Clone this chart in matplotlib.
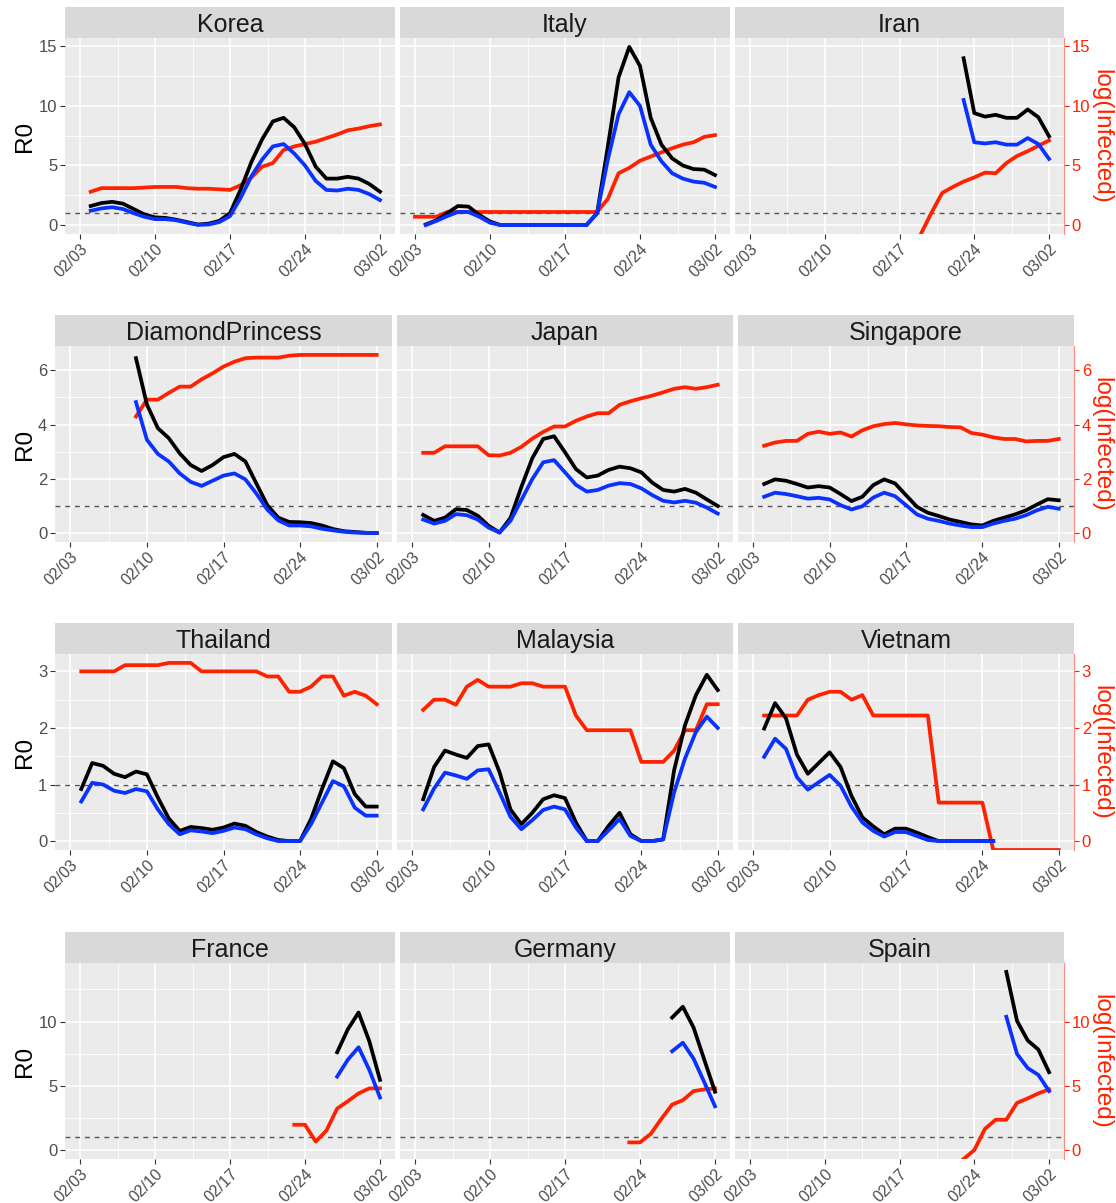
import numpy as np
import pandas as pd
import matplotlib
matplotlib.use("Agg")
import matplotlib.pyplot as plt
import matplotlib.dates as mdates
from matplotlib.ticker import MultipleLocator, FixedLocator

plt.rcParams['font.family'] = ['Liberation Sans', 'DejaVu Sans']

NEG = -np.inf  # log(0), drawn on the lower edge of the panel

# black = R0 upper, blue = R0 lower, red = log(Infected); daily values
korea_r0_start = "2020-02-04"
korea_r0_upper = [1.6, 1.85, 1.95, 1.8, 1.35, 0.9, 0.65, 0.6, 0.45, 0.25, 0.05, 0.12, 0.35, 1.0,
                  3.0, 5.3, 7.2, 8.7, 9.0, 8.2, 6.8, 4.9, 3.9, 3.9, 4.05, 3.9, 3.45, 2.8]
korea_r0_lower = [1.2, 1.4, 1.5, 1.35, 1.0, 0.7, 0.5, 0.5, 0.4, 0.2, 0.02, 0.05, 0.25, 0.75,
                  2.3, 4.1, 5.5, 6.6, 6.8, 6.0, 5.0, 3.7, 2.95, 2.9, 3.05, 2.95, 2.6, 2.1]
korea_log_start = "2020-02-04"
korea_log_inf = [2.8, 3.1, 3.1, 3.1, 3.1, 3.15, 3.2, 3.2, 3.2, 3.1, 3.05, 3.05, 3.0, 2.95,
                 3.35, 4.0, 4.9, 5.2, 6.3, 6.6, 6.8, 7.0, 7.3, 7.6, 7.95, 8.1, 8.3, 8.45]

italy_r0_start = "2020-02-04"
italy_r0_upper = [0.05, 0.4, 1.0, 1.6, 1.55, 0.85, 0.3, 0, 0, 0, 0, 0, 0, 0, 0, 0,
                  1.0, 6.6, 12.4, 14.95, 13.35, 9.0, 6.75, 5.6, 5.0, 4.7, 4.65, 4.2]
italy_r0_lower = [0.0, 0.35, 0.75, 1.1, 1.1, 0.7, 0.2, 0, 0, 0, 0, 0, 0, 0, 0, 0,
                  1.0, 5.5, 9.3, 11.15, 10.0, 6.75, 5.35, 4.35, 3.9, 3.65, 3.55, 3.2]
italy_log_start = "2020-02-03"
italy_log_inf = [0.7, 0.7, 0.7, 1.1, 1.1, 1.1, 1.1, 1.1, 1.1, 1.1, 1.1, 1.1, 1.1, 1.1, 1.1,
                 1.1, 1.1, 1.1, 2.2, 4.35, 4.8, 5.4, 5.75, 6.1, 6.45, 6.75, 6.95, 7.4, 7.55]

iran_r0_start = "2020-02-23"
iran_r0_upper = [14.0, 9.4, 9.1, 9.25, 9.0, 9.0, 9.7, 9.05, 7.45]
iran_r0_lower = [10.5, 6.95, 6.85, 6.95, 6.75, 6.75, 7.3, 6.8, 5.55]
iran_log_start = "2020-02-19"
iran_log_inf = [NEG, 1.05, 2.7, 3.2, 3.65, 4.0, 4.4, 4.35, 5.2, 5.8, 6.2, 6.65, 7.1]

dp_r0_start = "2020-02-09"
dp_r0_upper = [6.45, 4.74, 3.87, 3.5, 2.94, 2.51, 2.29, 2.51, 2.8, 2.92, 2.64, 1.83, 1.03,
               0.57, 0.41, 0.4, 0.37, 0.28, 0.15, 0.07, 0.04, 0.01, 0.0]
dp_r0_lower = [4.83, 3.44, 2.92, 2.64, 2.2, 1.89, 1.74, 1.93, 2.12, 2.2, 1.98, 1.46, 0.87,
               0.47, 0.28, 0.28, 0.25, 0.16, 0.1, 0.05, 0.02, 0.01, 0.0]
dp_log_start = "2020-02-09"
dp_log_inf = [4.3, 4.92, 4.92, 5.17, 5.4, 5.4, 5.67, 5.89, 6.14, 6.32, 6.45, 6.47, 6.47,
              6.47, 6.54, 6.57, 6.57, 6.57, 6.57, 6.57, 6.57, 6.57, 6.57]

japan_r0_start = "2020-02-04"
japan_r0_upper = [0.67, 0.45, 0.57, 0.88, 0.85, 0.64, 0.27, 0.02, 0.56, 1.7, 2.76, 3.47, 3.57,
                  2.98, 2.36, 2.05, 2.12, 2.33, 2.45, 2.39, 2.24, 1.86, 1.59, 1.53, 1.63, 1.49,
                  1.24, 1.0]
japan_r0_lower = [0.5, 0.35, 0.45, 0.7, 0.66, 0.5, 0.2, 0.02, 0.45, 1.22, 1.99, 2.61, 2.69,
                  2.24, 1.78, 1.53, 1.59, 1.75, 1.84, 1.81, 1.65, 1.4, 1.19, 1.13, 1.19, 1.12,
                  0.94, 0.72]
japan_log_start = "2020-02-04"
japan_log_inf = [2.96, 2.96, 3.2, 3.2, 3.2, 3.2, 2.87, 2.86, 2.96, 3.18, 3.48, 3.73, 3.93,
                 3.93, 4.14, 4.3, 4.42, 4.42, 4.73, 4.86, 4.97, 5.07, 5.19, 5.32, 5.38, 5.32,
                 5.38, 5.47]

singapore_r0_start = "2020-02-04"
singapore_r0_upper = [1.81, 1.98, 1.93, 1.81, 1.68, 1.73, 1.68, 1.44, 1.18, 1.34, 1.77, 1.98,
                      1.83, 1.4, 0.97, 0.75, 0.63, 0.5, 0.41, 0.32, 0.28, 0.45, 0.57, 0.69,
                      0.84, 1.05, 1.25, 1.21]
singapore_r0_lower = [1.34, 1.49, 1.44, 1.36, 1.27, 1.3, 1.24, 1.03, 0.87, 0.99, 1.31, 1.49,
                      1.36, 1.03, 0.69, 0.53, 0.45, 0.35, 0.28, 0.22, 0.22, 0.35, 0.45, 0.53,
                      0.66, 0.84, 0.97, 0.9]
singapore_log_start = "2020-02-04"
singapore_log_inf = [3.22, 3.34, 3.4, 3.4, 3.66, 3.74, 3.66, 3.71, 3.56, 3.79, 3.94, 4.02,
                     4.06, 4.01, 3.97, 3.95, 3.94, 3.91, 3.9, 3.69, 3.63, 3.53, 3.47, 3.47,
                     3.38, 3.4, 3.4, 3.47]

thailand_r0_start = "2020-02-04"
thailand_r0_upper = [0.92, 1.38, 1.33, 1.19, 1.13, 1.23, 1.18, 0.77, 0.4, 0.18, 0.25, 0.23,
                     0.2, 0.24, 0.31, 0.27, 0.16, 0.08, 0.02, 0.0, 0.0, 0.39, 0.92, 1.41,
                     1.29, 0.83, 0.61, 0.61]
thailand_r0_lower = [0.7, 1.03, 1.0, 0.89, 0.85, 0.92, 0.88, 0.56, 0.3, 0.12, 0.19, 0.17,
                     0.14, 0.18, 0.24, 0.21, 0.12, 0.05, 0.0, 0.0, 0.0, 0.3, 0.68, 1.06,
                     0.97, 0.59, 0.45, 0.45]
thailand_log_start = "2020-02-04"
thailand_log_inf = [3.0, 3.0, 3.0, 3.0, 3.11, 3.11, 3.11, 3.11, 3.15, 3.15, 3.15, 3.0, 3.0,
                    3.0, 3.0, 3.0, 3.0, 2.91, 2.91, 2.64, 2.64, 2.73, 2.91, 2.91, 2.57, 2.64,
                    2.57, 2.42]

malaysia_r0_start = "2020-02-04"
malaysia_r0_upper = [0.74, 1.31, 1.6, 1.53, 1.47, 1.68, 1.71, 1.22, 0.56, 0.3, 0.5, 0.74,
                     0.81, 0.76, 0.33, 0.0, 0.0, 0.27, 0.5, 0.12, 0.0, 0.0, 0.03, 1.25, 2.05,
                     2.58, 2.94, 2.67]
malaysia_r0_lower = [0.56, 0.93, 1.21, 1.16, 1.1, 1.25, 1.27, 0.86, 0.43, 0.21, 0.37, 0.55,
                     0.61, 0.56, 0.24, 0.0, 0.0, 0.19, 0.39, 0.09, 0.0, 0.0, 0.03, 0.86, 1.46,
                     1.93, 2.2, 2.0]
malaysia_log_start = "2020-02-04"
malaysia_log_inf = [2.32, 2.5, 2.5, 2.41, 2.73, 2.85, 2.73, 2.73, 2.73, 2.79, 2.79, 2.73,
                    2.73, 2.73, 2.22, 1.96, 1.96, 1.96, 1.96, 1.96, 1.4, 1.4, 1.4, 1.6, 1.96,
                    1.96, 2.42, 2.42]

vietnam_r0_start = "2020-02-04"
vietnam_r0_upper = [1.99, 2.44, 2.17, 1.53, 1.19, 1.38, 1.57, 1.31, 0.8, 0.42, 0.26, 0.12,
                    0.22, 0.22, 0.15, 0.07, 0.0, 0.0, 0.0, 0.0, 0.0, 0.0]
vietnam_r0_lower = [1.49, 1.81, 1.63, 1.13, 0.91, 1.04, 1.17, 0.98, 0.61, 0.33, 0.18, 0.08,
                    0.16, 0.16, 0.09, 0.02, 0.0, 0.0, 0.0, 0.0, 0.0, 0.0]
vietnam_log_start = "2020-02-04"
vietnam_log_inf = [2.22, 2.22, 2.22, 2.22, 2.5, 2.58, 2.64, 2.64, 2.5, 2.58, 2.22, 2.22,
                   2.22, 2.22, 2.22, 2.22, 0.68, 0.68, 0.68, 0.68, 0.68,
                   NEG, NEG, NEG, NEG, NEG, NEG, NEG]

france_r0_start = "2020-02-27"
france_r0_upper = [7.61, 9.4, 10.7, 8.47, 5.46]
france_r0_lower = [5.72, 7.03, 8.0, 6.24, 4.09]
france_log_start = "2020-02-23"
france_log_inf = [1.97, 1.97, 0.66, 1.52, 3.23, 3.8, 4.41, 4.8, 4.8]

germany_r0_start = "2020-02-27"
germany_r0_upper = [10.31, 11.15, 9.53, 7.03, 4.54]
germany_r0_lower = [7.69, 8.35, 7.11, 5.28, 3.41]
germany_log_start = "2020-02-23"
germany_log_inf = [0.6, 0.6, 1.26, 2.44, 3.54, 3.88, 4.59, 4.72, 4.8]

spain_r0_start = "2020-02-27"
spain_r0_upper = [13.86, 10.05, 8.53, 7.82, 6.06]
spain_r0_lower = [10.37, 7.48, 6.38, 5.85, 4.59]
spain_log_start = "2020-02-23"
spain_log_inf = [NEG, 0.0, 1.65, 2.36, 2.36, 3.67, 4.02, 4.41, 4.72]

rows = [
    [("Korea", korea_r0_start, korea_r0_upper, korea_r0_lower, korea_log_start, korea_log_inf),
     ("Italy", italy_r0_start, italy_r0_upper, italy_r0_lower, italy_log_start, italy_log_inf),
     ("Iran", iran_r0_start, iran_r0_upper, iran_r0_lower, iran_log_start, iran_log_inf)],
    [("DiamondPrincess", dp_r0_start, dp_r0_upper, dp_r0_lower, dp_log_start, dp_log_inf),
     ("Japan", japan_r0_start, japan_r0_upper, japan_r0_lower, japan_log_start, japan_log_inf),
     ("Singapore", singapore_r0_start, singapore_r0_upper, singapore_r0_lower,
      singapore_log_start, singapore_log_inf)],
    [("Thailand", thailand_r0_start, thailand_r0_upper, thailand_r0_lower,
      thailand_log_start, thailand_log_inf),
     ("Malaysia", malaysia_r0_start, malaysia_r0_upper, malaysia_r0_lower,
      malaysia_log_start, malaysia_log_inf),
     ("Vietnam", vietnam_r0_start, vietnam_r0_upper, vietnam_r0_lower,
      vietnam_log_start, vietnam_log_inf)],
    [("France", france_r0_start, france_r0_upper, france_r0_lower, france_log_start, france_log_inf),
     ("Germany", germany_r0_start, germany_r0_upper, germany_r0_lower,
      germany_log_start, germany_log_inf),
     ("Spain", spain_r0_start, spain_r0_upper, spain_r0_lower, spain_log_start, spain_log_inf)],
]

BLACK = "black"
BLUE = "#0A32FF"
RED = "#FF2200"
GREY_TXT = "#4D4D4D"
LW = 2.7

# figure layout in pixels
W, H = 1116, 1203
strip_tops = [7, 315, 623, 932]
strip_h, panel_h = 31, 196
cols_wide = [(65, 395), (400, 730), (735, 1064)]
cols_narrow = [(55, 392), (397, 733), (738, 1074)]
row_cols = [cols_wide, cols_narrow, cols_narrow, cols_wide]
row_steps = [5, 2, 1, 5]

fig = plt.figure(figsize=(W / 100, H / 100), dpi=100)
fig.patch.set_facecolor("white")


def px_axes(x0, y0, x1, y1):
    return fig.add_axes([x0 / W, 1 - y1 / H, (x1 - x0) / W, (y1 - y0) / H])


def day_nums(start, n):
    return mdates.date2num(pd.date_range(start, periods=n, freq="D").to_pydatetime())


first = mdates.date2num(pd.Timestamp("2020-02-03").to_pydatetime())
last = mdates.date2num(pd.Timestamp("2020-03-02").to_pydatetime())
xpad = 0.05 * (last - first)
major_x = [first + 7 * k for k in range(5)]
minor_x = [first + 3.5 + 7 * k for k in range(4)]

for r, row in enumerate(rows):
    vals = np.concatenate([np.asarray(p[2] + p[3] + p[5], dtype=float) for p in row])
    vals = vals[np.isfinite(vals)]
    lo, hi = vals.min(), vals.max()
    ypad = 0.05 * (hi - lo)
    ylim = (lo - ypad, hi + ypad)
    top = strip_tops[r]
    for c, (name, r0_start, upper, lower, log_start, log_inf) in enumerate(row):
        x0, x1 = row_cols[r][c]
        # facet strip
        sax = px_axes(x0, top, x1, top + strip_h)
        sax.set_facecolor("#D9D9D9")
        sax.set_xticks([])
        sax.set_yticks([])
        for s in sax.spines.values():
            s.set_visible(False)
        sax.text(0.5, 0.2, name, ha="center", va="baseline", fontsize=18,
                 color="#1A1A1A", transform=sax.transAxes)

        ax = px_axes(x0, top + strip_h, x1, top + strip_h + panel_h)
        ax.set_facecolor("#EBEBEB")
        for s in ax.spines.values():
            s.set_visible(False)
        ax.set_xlim(first - xpad, last + xpad)
        ax.set_ylim(*ylim)
        ax.xaxis.set_major_locator(FixedLocator(major_x))
        ax.xaxis.set_minor_locator(FixedLocator(minor_x))
        ax.xaxis.set_major_formatter(mdates.DateFormatter("%m/%d"))
        ax.yaxis.set_major_locator(MultipleLocator(row_steps[r]))
        ax.yaxis.set_minor_locator(MultipleLocator(row_steps[r] / 2))
        ax.grid(which="major", color="white", lw=1.2)
        ax.grid(which="minor", color="white", lw=0.6)
        ax.set_axisbelow(True)
        ax.tick_params(which="minor", length=0)
        ax.tick_params(axis="x", which="major", length=3.5, width=0.8, color="#333333",
                       labelsize=11.5, labelcolor=GREY_TXT, pad=1.5)
        for lab in ax.get_xticklabels():
            lab.set_rotation(45)
            lab.set_ha("right")
            lab.set_rotation_mode("anchor")
        ax.tick_params(axis="y", which="major", length=3.5, width=0.8, color="#333333",
                       labelsize=12, labelcolor=GREY_TXT, pad=2)
        if c > 0:
            ax.tick_params(axis="y", left=False, labelleft=False)
        if c == 2:
            ax.tick_params(axis="y", right=True, labelright=True, color=RED,
                           labelcolor=RED)
            ax.spines["right"].set_visible(True)
            ax.spines["right"].set_color("#FF8C80")
            ax.spines["right"].set_linewidth(0.8)

        ax.axhline(1, color="#555555", lw=1.0, ls=(0, (3.5, 3.5)), zorder=2)

        lx = day_nums(log_start, len(log_inf))
        ly = np.asarray(log_inf, dtype=float)
        ly = np.where(np.isneginf(ly), ylim[0], ly)
        ax.plot(lx, ly, color=RED, lw=LW, zorder=3, solid_joinstyle="round")
        rx = day_nums(r0_start, len(upper))
        ax.plot(rx, upper, color=BLACK, lw=LW, zorder=4, solid_joinstyle="round")
        ax.plot(rx, lower, color=BLUE, lw=LW, zorder=5, solid_joinstyle="round")

    ymid = 1 - (top + strip_h + panel_h / 2) / H
    fig.text(25 / W, ymid, "R0", rotation=90, ha="center", va="center", fontsize=17.5,
             color="black")
    fig.text(1101 / W, ymid, "log(Infected)", rotation=270, ha="center", va="center",
             fontsize=17.5, color=RED)

fig.savefig("out.png", dpi=100)
